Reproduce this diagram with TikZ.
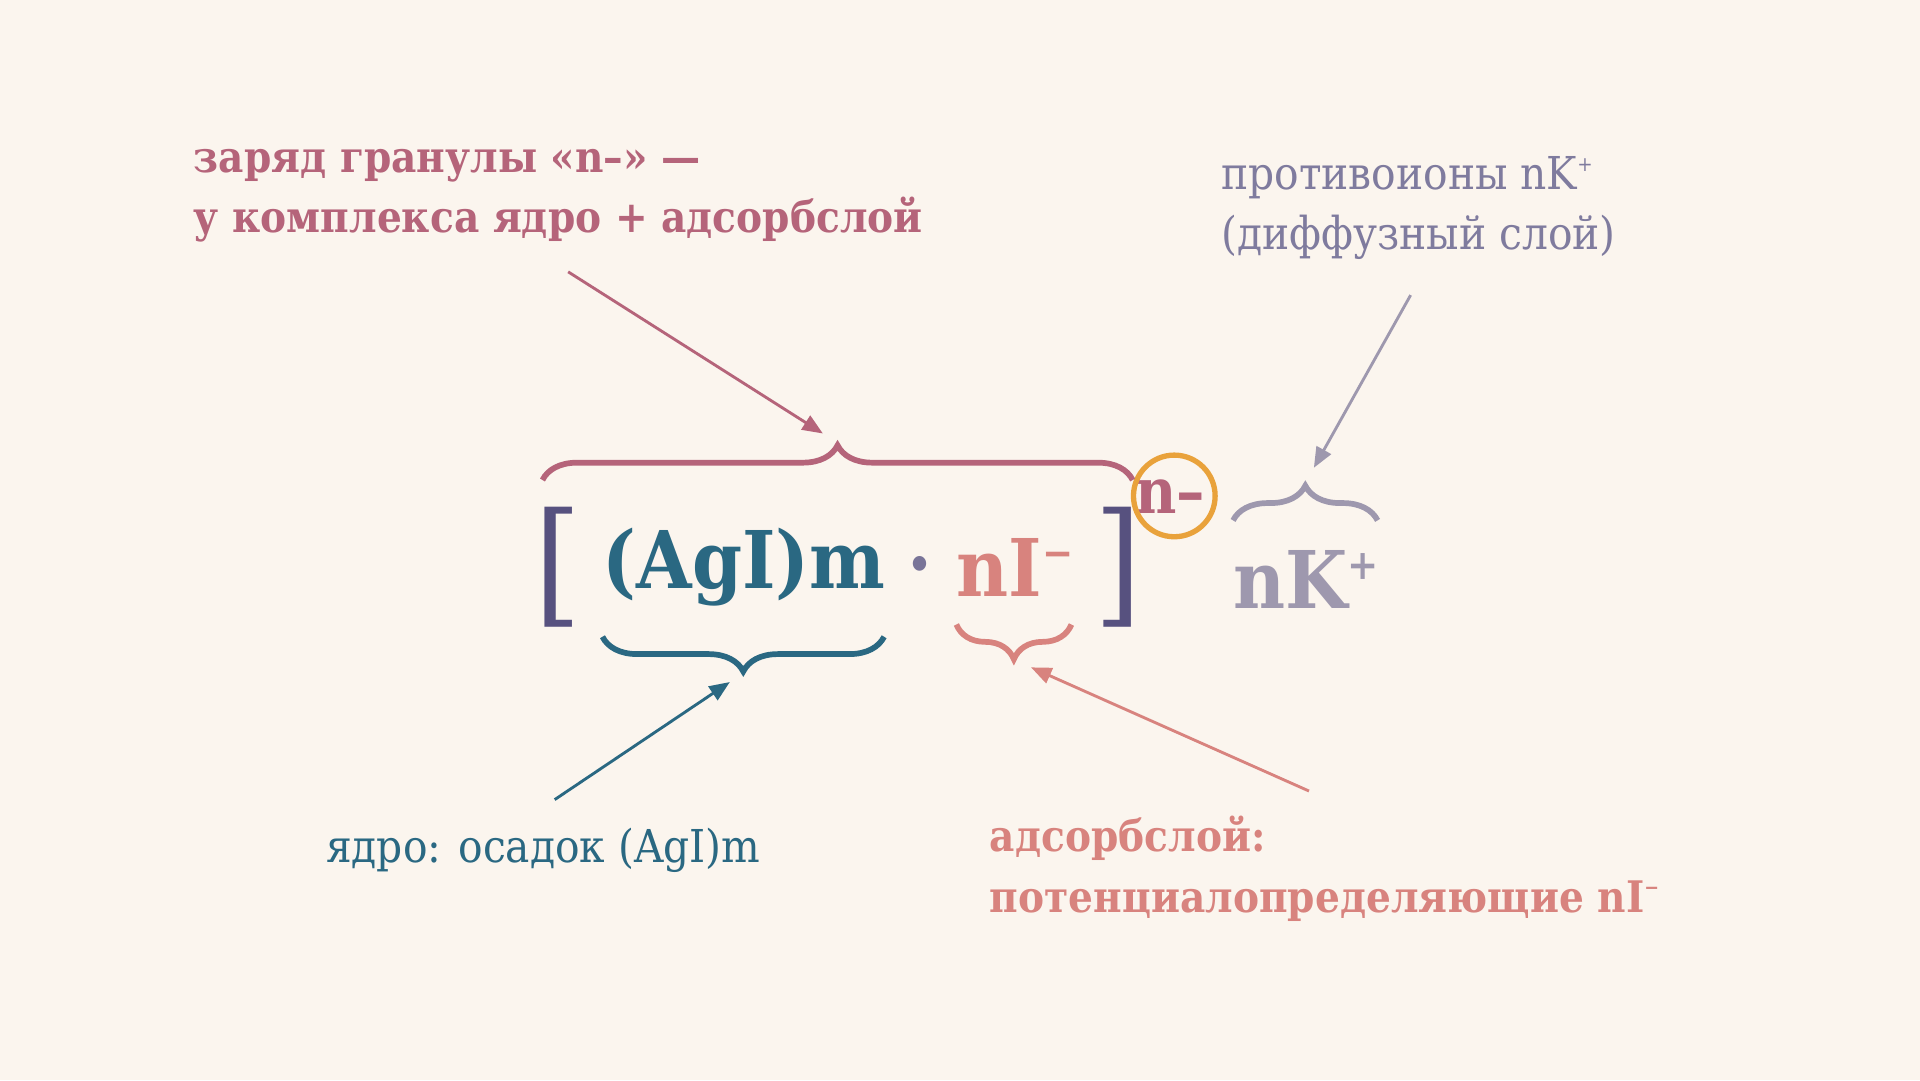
\documentclass[tikz,border=0pt]{standalone}
\usepackage{fontspec}
\setmainfont{DejaVu Serif}[FakeStretch=0.9]
\usepackage{tikz}
\usetikzlibrary{decorations.pathreplacing,arrows.meta,positioning}
\definecolor{paper}{HTML}{FBF5EE}
\definecolor{rose}{HTML}{B5647A}
\definecolor{teal}{HTML}{2A6882}
\definecolor{salmon}{HTML}{D8837E}
\definecolor{mist}{HTML}{9E98AE}
\definecolor{dusk}{HTML}{7F7B9E}
\definecolor{ink}{HTML}{57517F}
\definecolor{amber}{HTML}{E9A23B}
\newcommand\chsup[1]{\raisebox{0.4em}{\scalebox{0.45}{#1}}}
\newcommand\bigsup[1]{\raisebox{0.36em}{\scalebox{0.52}{#1}}}
\newcommand\bigfont{\fontsize{39}{39}\bfseries}
\newcommand\lblfont{\fontsize{22.2}{22}\selectfont}
\newcommand\boldlbl{\fontsize{21.3}{22}\bfseries}
\tikzstyle{lbl}=[inner sep=0pt,anchor=base west,font=\lblfont]
\tikzstyle{formula}=[inner sep=0pt,anchor=base west,font=\bigfont]
\tikzstyle{bracket}=[inner sep=0pt,text=ink,font=\fontsize{66}{66}\selectfont]
\tikzstyle{brc}=[decorate,decoration={brace,amplitude=17pt},line width=2.8pt]
\tikzstyle{mypath}=[-{Triangle[length=10pt,width=8pt]},line width=1.4pt]

\begin{document}
\begin{tikzpicture}[x=0.6pt,y=-0.6pt]
                \fill[paper] (0,0) rectangle (1568,882);
                \useasboundingbox (0,0) rectangle (1568,882);

                % formula
                \node[bracket] (lbr) at (456,463) {[};
                \node[formula,text=teal] (core) at (492,481) {(AgI)m};
                \node[formula,anchor=base,text=ink!80] (dot) at (751,483) {·};
                \node[formula,text=salmon] (ads) at (781,487) {nI\bigsup{−}};
                \node[bracket] (rbr) at (913,463) {]};
                \node[formula,text=rose,font=\fontsize{31}{31}\bfseries] (charge) at (927,419) {n–};
                \node[circle,draw=amber,line width=2.6pt,minimum size=40pt] (ring) at (959,405) {};
                \node[formula,text=mist] (counter) at (1007,497) {nK\bigsup{+}};

                % braces
                \draw[brc,rose] (443,392) -- (925,392);
                \draw[brc,teal] (722,520) -- (492,520);
                \draw[brc,salmon] (875,510) -- (781,510);
                \draw[brc,mist] (1007,425) -- (1125,425);

                % labels
                \node[lbl,text=rose,font=\boldlbl] (granA) at (158,141) {заряд гранулы «n–» —};
                \node[lbl,text=rose,font=\boldlbl] (granB) at (158,190) {у комплекса ядро + адсорбслой};
                \node[lbl,text=dusk] (diffA) at (997,155) {противоионы nK\chsup{+}};
                \node[lbl,text=dusk] (diffB) at (997,204) {(диффузный слой)};
                \node[lbl,text=teal] (coreA) at (266,704) {ядро: осадок (AgI)m};
                \node[lbl,text=salmon,font=\boldlbl] (adsA) at (808,695) {адсорбслой:};
                \node[lbl,text=salmon,font=\boldlbl] (adsB) at (808,745) {потенциалопределяющие nI\chsup{−}};

                % pointers
                \coordinate (granTail) at (464,222);
                \coordinate (granHead) at (672,354);
                \coordinate (diffTail) at (1152,241);
                \coordinate (diffHead) at (1073,382);
                \coordinate (coreTail) at (453,653);
                \coordinate (coreHead) at (596,557);
                \coordinate (adsTail) at (1069,646);
                \coordinate (adsHead) at (842,545);
                \draw[mypath,rose] (granTail) -- (granHead);
                \draw[mypath,mist] (diffTail) -- (diffHead);
                \draw[mypath,teal] (coreTail) -- (coreHead);
                \draw[mypath,salmon] (adsTail) -- (adsHead);
\end{tikzpicture}
\end{document}
